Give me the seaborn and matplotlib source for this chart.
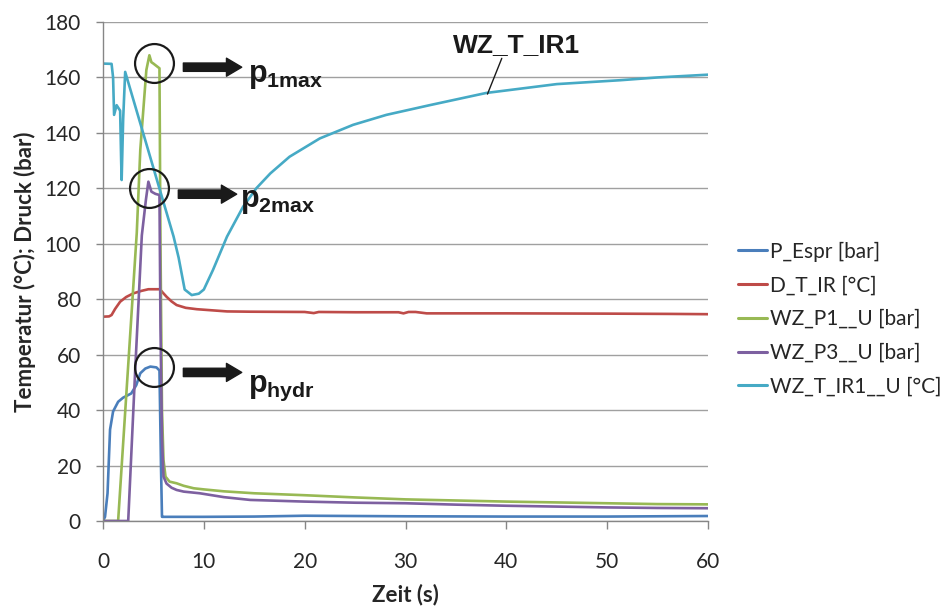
import numpy as np
import pandas as pd
import matplotlib
matplotlib.use("Agg")
import matplotlib.pyplot as plt
import seaborn as sns

# ---------------- data ----------------
series_names = ["P_Espr [bar]", "D_T_IR [°C]", "WZ_P1__U [bar]", "WZ_P3__U [bar]", "WZ_T_IR1__U [°C]"]
series_colors = ["#4A7EBB", "#BE4B48", "#98B954", "#7D60A0", "#46AAC5"]

p_espr_t = [0, 0.2, 0.45, 0.7, 1.0, 1.5, 2.0, 2.8, 3.3, 3.7, 4.2, 4.7, 5.3, 5.6, 5.75, 5.85, 6.0,
            10, 15, 20, 25, 30, 40, 50, 60]
p_espr_v = [0, 1.5, 10, 33, 39.5, 43, 44.5, 46, 49, 53.3, 55, 55.7, 55.4, 54.3, 20, 1.5, 1.5,
            1.5, 1.6, 1.9, 1.8, 1.7, 1.6, 1.6, 1.8]

d_t_ir_t = [0, 0.6, 0.85, 1.2, 1.7, 2.3, 3.0, 3.8, 4.5, 5.65, 5.9, 6.3, 6.8, 7.3, 8.2, 9.3, 12.3,
            14.6, 20, 20.9, 21.4, 25, 29.3, 29.8, 30.3, 31.0, 32.1, 40, 50, 56.3, 60]
d_t_ir_v = [73.7, 73.8, 74.3, 76.5, 79.1, 80.8, 82.1, 83.0, 83.6, 83.6, 82.5, 80.9, 79.2, 77.9,
            76.9, 76.4, 75.6, 75.5, 75.4, 75.0, 75.4, 75.3, 75.3, 74.9, 75.4, 75.4, 74.9, 74.9,
            74.8, 74.7, 74.6]

wz_p1_t = [0, 1.5, 3.35, 3.7, 4.3, 4.6, 4.8, 5.0, 5.6, 5.7, 5.85, 6.0, 6.2, 6.6, 7.3, 8, 9, 10,
           12, 15, 20, 25, 30, 35, 40, 45, 50, 55, 60]
wz_p1_v = [0, 0, 104, 134, 162.7, 168, 165.5, 165, 163.3, 100, 40, 22, 16, 14.2, 13.6, 12.7,
           11.8, 11.4, 10.7, 10.0, 9.3, 8.5, 7.8, 7.4, 7.0, 6.7, 6.4, 6.1, 6.0]

wz_p3_t = [0, 2.5, 3.2, 3.85, 4.26, 4.5, 4.8, 5.2, 5.6, 5.7, 5.85, 6.0, 6.3, 6.8, 7.3, 8, 9.6,
           12, 14.6, 20, 25, 30, 35, 40, 45, 50, 55, 60]
wz_p3_v = [0, 0, 55, 103, 116, 122.4, 118.8, 118, 117.6, 70, 30, 16, 13.5, 12, 11.2, 10.6, 10.0,
           8.6, 7.6, 7.0, 6.6, 6.4, 5.9, 5.5, 5.2, 4.9, 4.7, 4.6]

wz_t_ir1_t = [0, 0.85, 1.0, 1.1, 1.35, 1.7, 1.8, 1.85, 2.0, 2.2, 7.0, 7.5, 8.1, 8.8, 9.5, 10.0,
              10.9, 12.3, 13.9, 15.2, 16.6, 18.5, 21.5, 24.8, 28.1, 32.4, 38, 45, 51.3, 55, 60]
wz_t_ir1_v = [165, 164.9, 160, 146.5, 150, 148, 130, 123, 145, 162, 102.6, 95, 83.5, 81.5, 82,
              83.5, 90.5, 102.6, 113.4, 120, 125.4, 131.4, 138, 142.9, 146.5, 150, 154.4, 157.6,
              159, 160, 161]

x_ticks = [0, 10, 20, 30, 40, 50, 60]
y_ticks = [0, 20, 40, 60, 80, 100, 120, 140, 160, 180]

# peak annotations: circle centres, arrows, labels
peak_circles_x = [5.08, 4.54, 5.01]
peak_circles_y = [165.3, 120.1, 55.6]
arrow_x0 = [7.97, 7.47, 7.97]
arrow_x1 = [13.76, 13.26, 13.76]
arrow_y = [163.7, 117.9, 53.6]
label_x = [14.41, 13.6, 14.41]
label_y = [158.5, 113.2, 46.5]
label_sub = ["1max", "2max", "hydr"]

# ---------------- build long table ----------------
frames = []
for name, t, v in zip(series_names,
                      [p_espr_t, d_t_ir_t, wz_p1_t, wz_p3_t, wz_t_ir1_t],
                      [p_espr_v, d_t_ir_v, wz_p1_v, wz_p3_v, wz_t_ir1_v]):
    frames.append(pd.DataFrame({"Zeit": t, "Wert": v, "Serie": name}))
df = pd.concat(frames, ignore_index=True)

# ---------------- style ----------------
sns.set_style("white")
plt.rcParams["font.family"] = ["Lato", "DejaVu Sans"]
plt.rcParams["mathtext.fontset"] = "custom"
plt.rcParams["mathtext.bf"] = "Liberation Sans:bold"
plt.rcParams["mathtext.rm"] = "Liberation Sans"

fig = plt.figure(figsize=(9.48, 6.12), dpi=100)
ax = fig.add_axes([103 / 948, 1 - 521 / 612, (708 - 103) / 948, (521 - 22) / 612])

sns.lineplot(data=df, x="Zeit", y="Wert", hue="Serie", hue_order=series_names,
             palette=dict(zip(series_names, series_colors)), estimator=None, sort=False,
             linewidth=1.9, ax=ax)

ax.set_xlim(0, 60)
ax.set_ylim(0, 180)
ax.set_xticks(x_ticks)
ax.set_yticks(y_ticks)
ax.tick_params(axis="x", labelsize=15, length=6, width=1, color="#868686", pad=16,
               direction="out")
ax.tick_params(axis="y", labelsize=15, length=5, width=1, color="#868686", pad=11,
               direction="out")
ax.tick_params(axis="both", which="major", bottom=True, left=True)
for lab in ax.get_xticklabels() + ax.get_yticklabels():
    lab.set_color("#262626")

ax.yaxis.grid(True, color="#a0a0a0", linewidth=1.0)
ax.xaxis.grid(False)
ax.set_axisbelow(True)
for s in ["top", "right"]:
    ax.spines[s].set_visible(False)
for s in ["left", "bottom"]:
    ax.spines[s].set_color("#868686")
    ax.spines[s].set_linewidth(1.0)

ax.set_xlabel("Zeit (s)", fontsize=16, fontweight="bold", color="#262626", labelpad=9)
ax.set_ylabel("Temperatur (°C); Druck (bar)", fontsize=16, fontweight="bold",
              color="#262626", labelpad=6)

handles, labels = ax.get_legend_handles_labels()
leg = ax.legend(handles, labels, loc="center left", bbox_to_anchor=(738 / 948, 1 - 319 / 612),
                bbox_transform=fig.transFigure, frameon=False, fontsize=15,
                handlelength=1.4, handletextpad=0.12, labelspacing=0.66, borderpad=0,
                borderaxespad=0)
for line in leg.get_lines():
    line.set_linewidth(2.2)
for txt in leg.get_texts():
    txt.set_color("#262626")

# peak circles, arrows, labels
ax.plot(peak_circles_x, peak_circles_y, ls="none", marker="o", ms=28, mfc="none",
        mec="#1a1a1a", mew=1.6, clip_on=False)
for x0, x1, y in zip(arrow_x0, arrow_x1, arrow_y):
    ax.annotate("", xy=(x1, y), xytext=(x0, y),
                arrowprops=dict(arrowstyle="simple,head_length=0.55,head_width=0.65,tail_width=0.3",
                                mutation_scale=20, color="#1a1a1a", shrinkA=0, shrinkB=0))
for lx, ly, sub in zip(label_x, label_y, label_sub):
    ax.text(lx, ly, r"$\mathbf{p}_{\mathbf{%s}}$" % sub, fontsize=22, color="#1a1a1a",
            ha="left", va="baseline")

ax.text(41.04, 171.7, "WZ_T_IR1", fontsize=19, fontweight="bold",
        family=["Liberation Sans", "DejaVu Sans"], color="#1a1a1a", ha="center", va="center")
ax.annotate("", xy=(38.13, 154.0), xytext=(39.55, 166.9),
            arrowprops=dict(arrowstyle="-", color="#1a1a1a", lw=1.0, shrinkA=0, shrinkB=0))

fig.savefig("out.png", dpi=100)
